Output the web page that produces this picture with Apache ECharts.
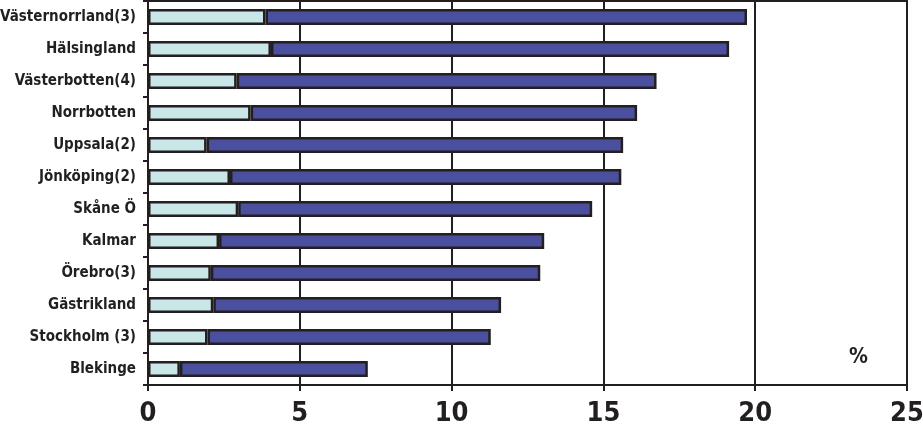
<!DOCTYPE html>
<html>
<head>
<meta charset="utf-8">
<script src="https://cdn.jsdelivr.net/npm/echarts@6/dist/echarts.min.js"></script>
<style>
  html, body { margin: 0; padding: 0; background: #fff; }
  #chart { width: 923px; height: 434px; }
</style>
</head>
<body>
<div id="chart"></div>
<script>
// categories, top to bottom
const regions = [
  'Västernorrland(3)', 'Hälsingland', 'Västerbotten(4)', 'Norrbotten',
  'Uppsala(2)', 'Jönköping(2)', 'Skåne Ö', 'Kalmar',
  'Örebro(3)', 'Gästrikland', 'Stockholm (3)', 'Blekinge'
]
// light segment (%)
const lightPart = [3.87, 4.05, 2.92, 3.38, 1.93, 2.70, 2.97, 2.34, 2.07, 2.15, 1.96, 1.05]
// dark segment (%), total minus light
const darkPart = [15.86, 15.09, 13.83, 12.73, 13.72, 12.89, 11.66, 10.71, 10.85, 9.48, 9.33, 6.19]
const xTicks = [0, 5, 10, 15, 20, 25]

const ink = '#231f20'
const font = "'Liberation Sans Narrow', 'DejaVu Sans Condensed', 'Arial Narrow', sans-serif"

const chart = echarts.init(document.getElementById('chart'))

chart.setOption({
  animation: false,
  backgroundColor: '#fff',
  grid: {
    left: 148, right: 16, top: 1, bottom: 49,
    outerBoundsMode: 'none',
    containLabel: false,
    show: true, borderColor: ink, borderWidth: 2
  },
  xAxis: {
    type: 'value',
    min: xTicks[0],
    max: xTicks[xTicks.length - 1],
    interval: 5,
    axisLine: { show: true, lineStyle: { color: ink, width: 2 } },
    axisTick: { show: true, length: 6, lineStyle: { color: ink, width: 2 } },
    splitLine: { show: true, lineStyle: { color: ink, width: 2 } },
    axisLabel: {
      color: ink, fontFamily: font, fontWeight: 'bold', fontSize: 27, margin: 15
    }
  },
  yAxis: {
    type: 'category',
    data: regions,
    inverse: true,
    axisLine: { show: true, lineStyle: { color: ink, width: 2 } },
    axisTick: { show: true, length: 5, lineStyle: { color: ink, width: 2 } },
    axisLabel: {
      color: ink, fontFamily: font, fontWeight: 'bold', fontSize: 15, margin: 12
    }
  },
  graphic: [{
    type: 'text',
    left: 849, top: 347,
    style: { text: '%', fill: ink, font: 'bold 21px ' + font }
  }],
  series: [
    {
      name: 'light', type: 'bar', stack: 'a', barWidth: '50%',
      data: lightPart,
      itemStyle: { color: '#c9e6e9', borderColor: ink, borderWidth: 2.5 }
    },
    {
      name: 'dark', type: 'bar', stack: 'a', barWidth: '50%',
      data: darkPart,
      itemStyle: { color: '#4a4f9e', borderColor: ink, borderWidth: 2.5 }
    }
  ]
})
</script>
</body>
</html>
